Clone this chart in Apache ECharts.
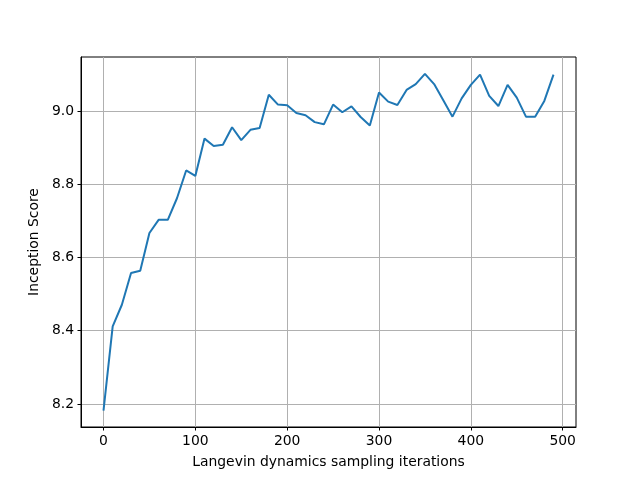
<!DOCTYPE html>
<html>
<head>
<meta charset="utf-8">
<script src="https://cdn.jsdelivr.net/npm/echarts@6/dist/echarts.min.js"></script>
<style>html,body{margin:0;padding:0;background:#fff;}#c{width:640px;height:480px;}</style>
</head>
<body>
<div id="c"></div>
<script>
const iterations = [0,10,20,30,40,50,60,70,80,90,100,110,120,130,140,150,160,170,180,190,200,210,220,230,240,250,260,270,280,290,300,310,320,330,340,350,360,370,380,390,400,410,420,430,440,450,460,470,480,490];
const inceptionScore = [8.182,8.412,8.471,8.558,8.564,8.667,8.703,8.703,8.762,8.838,8.823,8.925,8.905,8.908,8.956,8.921,8.949,8.954,9.045,9.018,9.016,8.995,8.989,8.970,8.964,9.018,8.997,9.013,8.984,8.961,9.051,9.026,9.017,9.058,9.074,9.102,9.074,9.030,8.985,9.035,9.072,9.100,9.042,9.014,9.072,9.037,8.985,8.985,9.028,9.100];
const xTicks = [0,100,200,300,400,500];
const yTicks = [8.2,8.4,8.6,8.8,9.0];

const font = 'DejaVu Sans';
const chart = echarts.init(document.getElementById('c'), null, {renderer:'canvas'});
chart.setOption({
  animation:false,
  backgroundColor:'#fff',
  grid:{left:81,right:64,top:57,bottom:53,show:true,borderColor:'#000',borderWidth:1,backgroundColor:'transparent'},
  xAxis:{
    type:'value', min:-24.5, max:514.5,
    name:'Langevin dynamics sampling iterations', nameLocation:'middle', nameGap:28,
    nameTextStyle:{fontFamily:font,fontSize:13.9,color:'#000'},
    axisLine:{show:true,onZero:false,lineStyle:{color:'#000',width:1}},
    axisTick:{show:true,length:3.5,lineStyle:{color:'#000',width:1},customValues:xTicks},
    axisLabel:{fontFamily:font,fontSize:13.9,color:'#000',margin:7,customValues:xTicks,showMinLabel:true,showMaxLabel:true},
    splitLine:{show:true,lineStyle:{color:'#b0b0b0',width:1}}
  },
  yAxis:{
    type:'value', min:8.137, max:9.148,
    name:'Inception Score', nameLocation:'middle', nameGap:40,
    nameTextStyle:{fontFamily:font,fontSize:13.9,color:'#000'},
    axisLine:{show:true,onZero:false,lineStyle:{color:'#000',width:1}},
    axisTick:{show:true,length:3.5,lineStyle:{color:'#000',width:1},customValues:yTicks},
    axisLabel:{fontFamily:font,fontSize:13.9,color:'#000',margin:7,customValues:yTicks,formatter:v=>v.toFixed(1)},
    splitLine:{show:true,lineStyle:{color:'#b0b0b0',width:1}}
  },
  series:[{
    type:'line',
    data:iterations.map((x,i)=>[x,inceptionScore[i]]),
    showSymbol:false,
    lineStyle:{color:'#1f77b4',width:2},
    itemStyle:{color:'#1f77b4'}
  }]
});
</script>
</body>
</html>
